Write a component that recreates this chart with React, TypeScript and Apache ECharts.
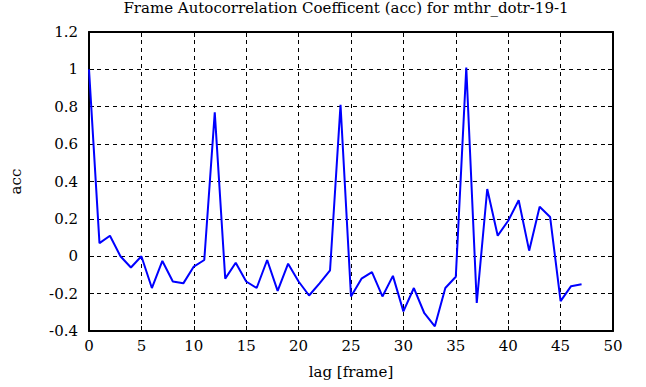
import React, { useEffect, useRef } from "react";
import * as echarts from "echarts";

const lags: number[] = [
  0, 1, 2, 3, 4, 5, 6, 7, 8, 9, 10, 11, 12, 13, 14, 15, 16, 17, 18, 19, 20, 21, 22, 23,
  24, 25, 26, 27, 28, 29, 30, 31, 32, 33, 34, 35, 36, 37, 38, 39, 40, 41, 42, 43, 44, 45, 46, 47,
];
const accValues: number[] = [
  1.0, 0.07, 0.11, 0.0, -0.06, 0.0, -0.17, -0.025, -0.135, -0.145, -0.055, -0.02,
  0.77, -0.12, -0.035, -0.135, -0.17, -0.02, -0.185, -0.04, -0.135, -0.21, -0.145, -0.075,
  0.81, -0.215, -0.12, -0.085, -0.215, -0.105, -0.295, -0.17, -0.305, -0.375, -0.17, -0.11,
  1.01, -0.25, 0.36, 0.11, 0.19, 0.3, 0.03, 0.265, 0.21, -0.24, -0.16, -0.15,
];
const titleText = "Frame Autocorrelation Coefficent (acc) for mthr_dotr-19-1";
const xName = "lag [frame]";
const yName = "acc";

const FONT = "DejaVu Serif";
const FS = 15;

export default function App() {
  const ref = useRef<HTMLDivElement>(null);
  useEffect(() => {
    if (!ref.current) return;
    const chart = echarts.init(ref.current, null, { renderer: "svg" });
    const axisLine = { show: true, onZero: false, lineStyle: { color: "#000", width: 2 } };
    const tick = { show: true, inside: true, length: 5, lineStyle: { color: "#000", width: 1 } };
    const split = { show: true, lineStyle: { color: "#000", width: 1, type: [4, 4] as any } };
    const label = { fontFamily: FONT, fontSize: FS, color: "#000" };
    chart.setOption({
      animation: false,
      backgroundColor: "#fff",
      textStyle: { fontFamily: FONT, color: "#000" },
      title: {
        text: titleText,
        left: 346,
        textAlign: "center",
        top: 0,
        padding: 0,
        textStyle: { fontFamily: FONT, fontSize: FS, fontWeight: "normal", color: "#000" },
      },
      grid: { left: 86, right: 33, top: 32, bottom: 56, containLabel: false },
      xAxis: [
        {
          type: "value",
          min: 0,
          max: 50,
          interval: 5,
          position: "bottom",
          name: xName,
          nameLocation: "middle",
          nameGap: 33,
          nameTextStyle: label,
          axisLine,
          axisTick: tick,
          axisLabel: { ...label, margin: 7 },
          splitLine: split,
        },
        {
          type: "value",
          min: 0,
          max: 50,
          interval: 5,
          position: "top",
          axisLine,
          axisTick: tick,
          axisLabel: { show: false },
          splitLine: { show: false },
        },
      ],
      yAxis: [
        {
          type: "value",
          min: -0.4,
          max: 1.2,
          interval: 0.2,
          position: "left",
          name: yName,
          nameLocation: "middle",
          nameGap: 66,
          nameRotate: 90,
          nameTextStyle: label,
          axisLine,
          axisTick: tick,
          axisLabel: { ...label, margin: 11 },
          splitLine: split,
        },
        {
          type: "value",
          min: -0.4,
          max: 1.2,
          interval: 0.2,
          position: "right",
          axisLine,
          axisTick: tick,
          axisLabel: { show: false },
          splitLine: { show: false },
        },
      ],
      series: [
        {
          type: "line",
          data: lags.map((l, i) => [l, accValues[i]]),
          showSymbol: false,
          lineStyle: { color: "#0000ff", width: 2 },
          itemStyle: { color: "#0000ff" },
          z: 5,
        },
      ],
    });
    return () => chart.dispose();
  }, []);
  return (
    <div
      ref={ref}
      style={{ position: "fixed", left: 0, top: 0, width: 646, height: 387 }}
    />
  );
}
